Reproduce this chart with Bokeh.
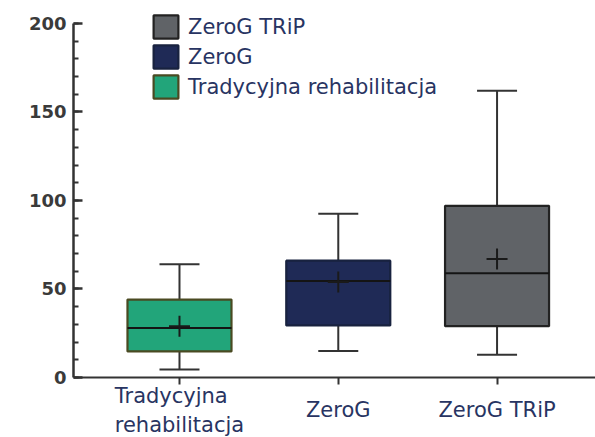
from bokeh.plotting import figure
from bokeh.models import (ColumnDataSource, Whisker, TeeHead, Legend, LegendItem,
                          FixedTicker, LabelSet, Range1d)
from bokeh.core.properties import value
from bokeh.embed import file_html
from bokeh.resources import INLINE
import numpy as np

# ---- data ----
categories = ["Tradycyjna rehabilitacja", "ZeroG", "ZeroG TRiP"]
tick_labels = ["Tradycyjna\nrehabilitacja", "ZeroG", "ZeroG TRiP"]
positions = [1, 2, 3]
whisker_low = [4.5, 15.0, 12.8]
q1 = [14.7, 29.4, 29.0]
median = [28.0, 54.5, 58.9]
q3 = [44.0, 66.0, 97.0]
whisker_high = [64.0, 92.5, 162.0]
mean = [29.0, 54.0, 67.0]
y_ticks = [0, 50, 100, 150, 200]
y_minor = list(range(0, 201, 10))

fill_colors = ["#22a57a", "#1f2a56", "#606367"]
line_colors = ["#4a4a22", "#18223f", "#222222"]

BOX_W = 0.655
TEXT_COLOR = "#283462"
FONT = "DejaVu Sans"

p = figure(width=595, height=437, output_backend="svg", toolbar_location=None,
           x_range=Range1d(0.3325, 3.62), y_range=Range1d(-33.9, 206.2),
           x_axis_location="above",
           min_border_left=73, min_border_right=0, min_border_top=12,
           min_border_bottom=0)
p.outline_line_color = None
p.xgrid.visible = False
p.ygrid.visible = False

src = ColumnDataSource(dict(x=positions, low=whisker_low, q1=q1, med=median, q3=q3,
                            high=whisker_high, mean=mean,
                            mx0=np.array(positions) - BOX_W / 2,
                            mx1=np.array(positions) + BOX_W / 2,
                            lab=tick_labels, zero=[0, 0, 0]))

wh = Whisker(base="x", lower="low", upper="high", source=src, dimension="height",
             line_color="#333333", line_width=2, level="underlay",
             upper_head=TeeHead(size=40, line_color="#333333", line_width=2),
             lower_head=TeeHead(size=40, line_color="#333333", line_width=2))
p.add_layout(wh)

renderers = []
for i in range(3):
    r = p.vbar(x=[positions[i]], width=BOX_W, bottom=[q1[i]], top=[q3[i]],
               fill_color=fill_colors[i], line_color=line_colors[i], line_width=2.2)
    renderers.append(r)

p.segment(x0="mx0", x1="mx1", y0="med", y1="med", source=src,
          line_color="#141414", line_width=2)
p.scatter(x="x", y="mean", source=src, marker="cross", size=21,
          line_color="#1a1a1a", line_width=2)

# y axis
yax = p.yaxis[0]
yax.ticker = FixedTicker(ticks=y_ticks, minor_ticks=y_minor)
yax.bounds = (0, 200)
yax.axis_line_width = 2.5
yax.axis_line_color = "#333333"
yax.major_tick_line_color = "#333333"
yax.major_tick_line_width = 2.5
yax.major_tick_in = 9
yax.major_tick_out = 0
yax.minor_tick_line_color = "#333333"
yax.minor_tick_line_width = 2
yax.minor_tick_in = 5
yax.minor_tick_out = 0
yax.major_label_standoff = 7
yax.major_label_text_font = "DejaVu Sans"
yax.major_label_text_font_style = "bold"
yax.major_label_text_font_size = "18px"
yax.major_label_text_color = "#3a3a3a"

# x axis drawn at y = 0 (its category names are drawn by the LabelSet below)
xax = p.xaxis[0]
xax.fixed_location = 0
xax.ticker = FixedTicker(ticks=positions)
xax.axis_line_width = 2
xax.axis_line_color = "#333333"
xax.major_tick_line_color = "#333333"
xax.major_tick_line_width = 2
xax.major_tick_in = 7
xax.major_tick_out = 0
xax.minor_tick_line_color = None
xax.major_label_overrides = {pos: "" for pos in positions}
xax.major_label_standoff = 0

labels = LabelSet(x="x", y="zero", text="lab", source=src, y_offset=-33,
                  text_align="center", text_baseline="middle",
                  text_font=value(FONT), text_font_size=value("21px"),
                  text_color=TEXT_COLOR, text_line_height=1.2)
p.add_layout(labels)

items = [LegendItem(label=categories[i], renderers=[renderers[i]]) for i in (2, 1, 0)]
legend = Legend(items=items, location=(77, 336), glyph_width=31, glyph_height=29,
                label_height=29, spacing=1, padding=0, margin=0, label_standoff=7,
                label_text_font=FONT, label_text_font_size="21px",
                label_text_color=TEXT_COLOR, background_fill_alpha=0,
                border_line_alpha=0)
p.add_layout(legend, "center")

open("out.html", "w").write(file_html(p, INLINE))
